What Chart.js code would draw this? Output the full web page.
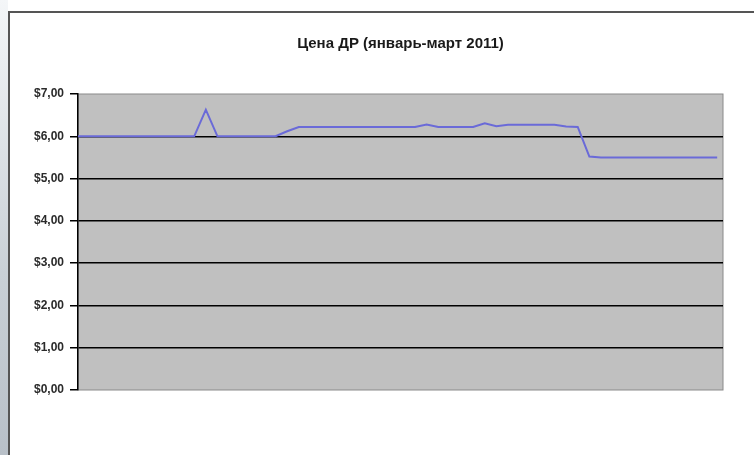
<!DOCTYPE html>
<html>
<head>
<meta charset="utf-8">
<script src="https://cdn.jsdelivr.net/npm/chart.js@4/dist/chart.umd.min.js"></script>
<style>
  html, body { margin: 0; padding: 0; background: #fff; }
  #wrap { position: relative; width: 754px; height: 455px; overflow: hidden; background: #fff; }
  #side { position: absolute; left: 0; top: 0; width: 8px; height: 455px; background: linear-gradient(#f4f6f8, #c9d0d6 60%, #b8c0c8); }
  #frame { position: absolute; left: 8px; top: 11px; width: 760px; height: 460px; border-left: 2px solid #555; border-top: 2px solid #555; }
  canvas { position: absolute; left: 0; top: 0; }
</style>
</head>
<body>
<div id="wrap">
  <div id="side"></div>
  <div id="frame"></div>
  <canvas id="c" width="754" height="455"></canvas>
</div>
<script>
// Цена ДР, январь-март 2011 (торговые дни по порядку)
const days = [
  0, 1, 2, 3, 4, 5, 6, 7, 8, 9,
  10, 11, 12, 13, 14, 15, 16, 17, 18, 19,
  20, 21, 22, 23, 24, 25, 26, 27, 28, 29,
  30, 31, 32, 33, 34, 35, 36, 37, 38, 39,
  40, 41, 42, 43, 44, 45, 46, 47, 48, 49,
  50, 51, 52, 53, 54, 55
]
const prices = [
  6.00, 6.00, 6.00, 6.00, 6.00, 6.00, 6.00, 6.00, 6.00, 6.00,
  6.00, 6.63, 6.00, 6.00, 6.00, 6.00, 6.00, 6.00, 6.12, 6.22,
  6.22, 6.22, 6.22, 6.22, 6.22, 6.22, 6.22, 6.22, 6.22, 6.22,
  6.28, 6.22, 6.22, 6.22, 6.22, 6.31, 6.24, 6.27, 6.27, 6.27,
  6.27, 6.27, 6.23, 6.22, 5.52, 5.50, 5.50, 5.50, 5.50, 5.50,
  5.50, 5.50, 5.50, 5.50, 5.50, 5.50
]
const yTicks = [0, 1, 2, 3, 4, 5, 6, 7]

const plotBg = {
  id: 'plotBg',
  beforeDraw(chart) {
    const { ctx, chartArea: a } = chart
    ctx.save()
    ctx.fillStyle = '#c0c0c0'
    ctx.fillRect(a.left, a.top, a.right - a.left, a.bottom - a.top)
    ctx.strokeStyle = '#8a8a8a'
    ctx.lineWidth = 1
    ctx.strokeRect(a.left, a.top, a.right - a.left, a.bottom - a.top)
    ctx.restore()
  }
}

new Chart(document.getElementById('c'), {
  type: 'line',
  data: {
    datasets: [{
      data: days.map((d, i) => ({ x: d, y: prices[i] })),
      borderColor: '#6a6ad8',
      borderWidth: 2,
      pointRadius: 0,
      tension: 0,
      fill: false
    }]
  },
  options: {
    responsive: false,
    animation: false,
    layout: { padding: { left: 0, right: 31, top: 0, bottom: 65 } },
    plugins: {
      legend: { display: false },
      tooltip: { enabled: false },
      title: {
        display: true,
        fullSize: false,
        text: 'Цена ДР (январь-март 2011)',
        color: '#1a1a1a',
        font: { family: 'Liberation Sans', size: 15, weight: 'bold' },
        padding: { top: 35, bottom: 41 }
      }
    },
    scales: {
      x: {
        type: 'linear',
        display: false,
        min: 0,
        max: 55.5
      },
      y: {
        min: 0,
        max: 7,
        afterBuildTicks: s => { s.ticks = yTicks.map(v => ({ value: v })) },
        afterFit: s => { s.width = 78 },
        border: { display: true, color: '#000', width: 1.5 },
        grid: {
          color: c => (c.tick.value === 0 || c.tick.value === 7) ? 'rgba(0,0,0,0)' : '#000',
          lineWidth: 1.5,
          tickLength: 8,
          tickColor: '#000',
          drawTicks: true
        },
        ticks: {
          color: '#2a2a2a',
          padding: 6,
          font: { family: 'Liberation Sans', size: 12, weight: 'bold' },
          callback: v => '$' + v.toFixed(2).replace('.', ',')
        }
      }
    }
  },
  plugins: [plotBg]
})
</script>
</body>
</html>
